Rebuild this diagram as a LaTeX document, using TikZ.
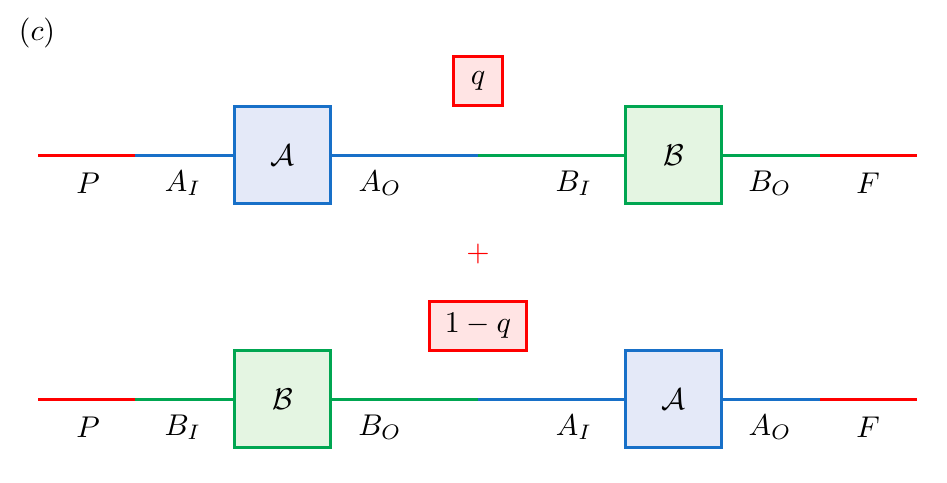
\documentclass[tikz,border=0pt]{standalone}
\begin{document}
\begin{tikzpicture}[x=0.011715cm,y=-0.011715cm,
  wire/.style={line width=1pt},
  boxA/.style={draw=blueA,fill=fillA,line width=1pt,minimum width=32.3pt,minimum height=32.3pt,inner sep=0pt},
  boxB/.style={draw=greenB,fill=fillB,line width=1pt,minimum width=32.3pt,minimum height=32.3pt,inner sep=0pt},
  wbox/.style={draw=red,fill=fillR,line width=1pt,minimum height=16.3pt,inner sep=0pt},
  lab/.style={inner sep=0pt}]
\definecolor{blueA}{RGB}{24,112,200}
\definecolor{greenB}{RGB}{0,166,81}
\definecolor{fillA}{RGB}{228,233,248}
\definecolor{fillB}{RGB}{228,245,226}
\definecolor{fillR}{RGB}{255,228,228}
\useasboundingbox (0,0) rectangle (947,482);
\node[lab] (c) at (37,33) {$(c)$};
\node[wbox,minimum width=16.3pt] (q) at (478,81) {$q$};
\node[lab,red] (plus) at (478,254) {$+$};
\node[wbox,minimum width=32.5pt] (q1) at (478,326) {$1-q$};
% top row
\coordinate (t0) at (38,155);
\coordinate (t1) at (135,155);
\node[boxA] (tA) at (282.5,155) {$\mathcal{A}$};
\coordinate (tm) at (478,155);
\node[boxB] (tB) at (673.5,155) {$\mathcal{B}$};
\coordinate (t2) at (820,155);
\coordinate (t3) at (917,155);
\draw[wire,red] (t0) -- (t1);
\draw[wire,blueA] (t1) -- (tA.west);
\draw[wire,blueA] (tA.east) -- (tm);
\draw[wire,greenB] (tm) -- (tB.west);
\draw[wire,greenB] (tB.east) -- (t2);
\draw[wire,red] (t2) -- (t3);
\node[lab] (tl1) at (88,183) {$P$};
\node[lab] (tl2) at (183,183) {$A_I$};
\node[lab] (tl3) at (380,183) {$A_O$};
\node[lab] (tl4) at (574,183) {$B_I$};
\node[lab] (tl5) at (770,183) {$B_O$};
\node[lab] (tl6) at (868,183) {$F$};
% bottom row
\coordinate (b0) at (38,399);
\coordinate (b1) at (135,399);
\node[boxB] (bB) at (282.5,399) {$\mathcal{B}$};
\coordinate (bm) at (478,399);
\node[boxA] (bA) at (673.5,399) {$\mathcal{A}$};
\coordinate (b2) at (820,399);
\coordinate (b3) at (917,399);
\draw[wire,red] (b0) -- (b1);
\draw[wire,greenB] (b1) -- (bB.west);
\draw[wire,greenB] (bB.east) -- (bm);
\draw[wire,blueA] (bm) -- (bA.west);
\draw[wire,blueA] (bA.east) -- (b2);
\draw[wire,red] (b2) -- (b3);
\node[lab] (bl1) at (88,427) {$P$};
\node[lab] (bl2) at (183,427) {$B_I$};
\node[lab] (bl3) at (380,427) {$B_O$};
\node[lab] (bl4) at (574,427) {$A_I$};
\node[lab] (bl5) at (770,427) {$A_O$};
\node[lab] (bl6) at (868,427) {$F$};
\end{tikzpicture}
\end{document}
